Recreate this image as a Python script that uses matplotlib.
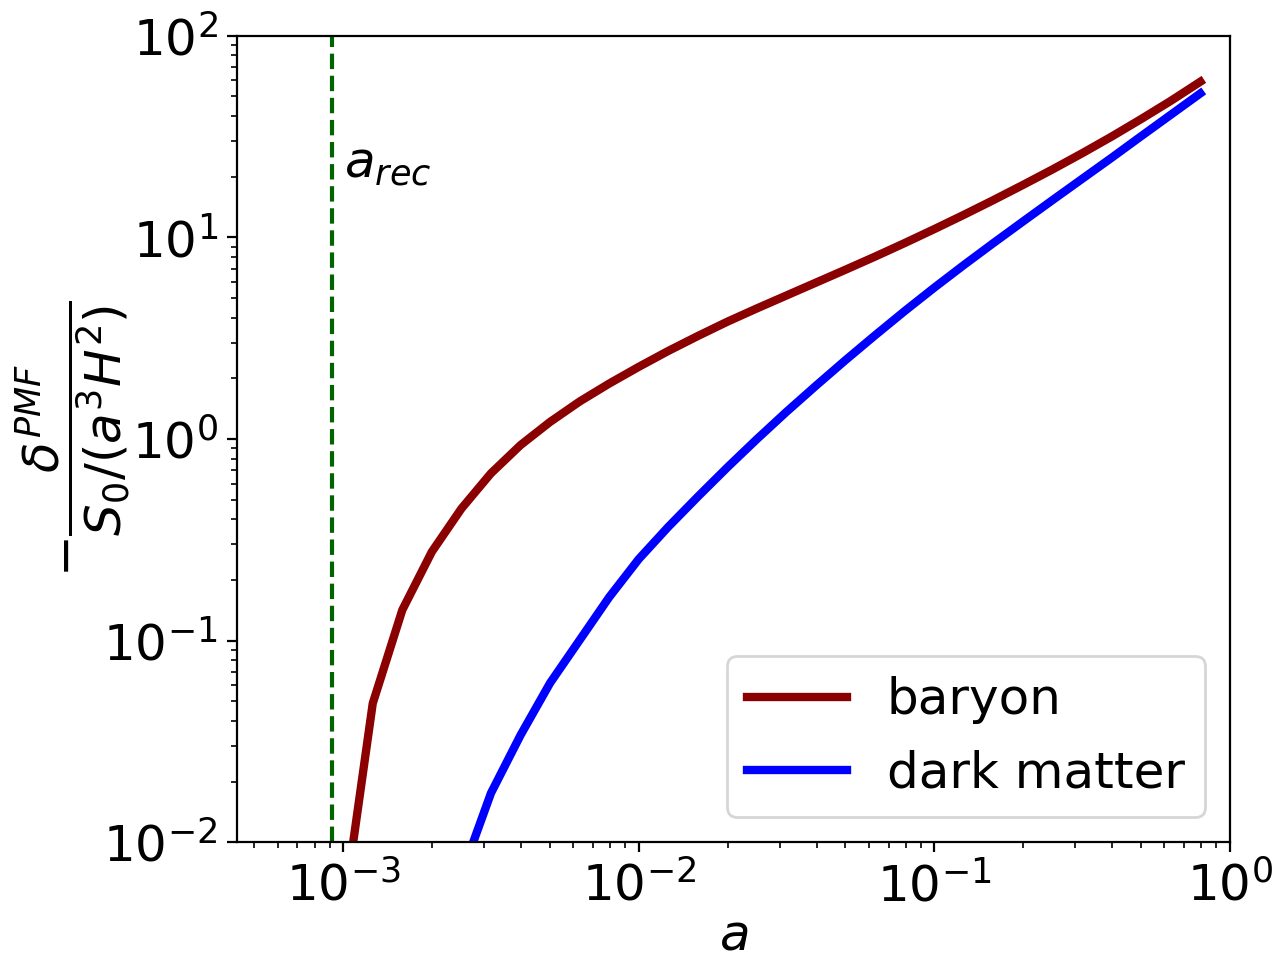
import numpy as np
import matplotlib
matplotlib.use("Agg")
import matplotlib.pyplot as plt

# scale factor grid (log-spaced, 0.1 dex)
a_grid = [0.001, 0.001259, 0.001585, 0.001995, 0.002512, 0.003162, 0.003981,
          0.005012, 0.00631, 0.007943, 0.01, 0.01259, 0.01585, 0.01995,
          0.02512, 0.03162, 0.03981, 0.05012, 0.0631, 0.07943, 0.1, 0.1259,
          0.1585, 0.1995, 0.2512, 0.3162, 0.3981, 0.5012, 0.631, 0.7943]

baryon = [0.00445, 0.0489, 0.142, 0.276, 0.452, 0.676, 0.933, 1.216, 1.535, 1.884,
          2.280, 2.735, 3.243, 3.819, 4.446, 5.152, 5.970, 6.918, 8.035, 9.376,
          10.99, 12.94, 15.31, 18.20, 21.73, 26.12, 31.62, 38.64, 47.53, 59.16]

a_dm = a_grid[3:]
dark_matter = [0.0033, 0.0069, 0.01754, 0.0340, 0.0617, 0.1007, 0.1644,
               0.254, 0.367, 0.518, 0.724, 1.0, 1.365, 1.841, 2.466, 3.273, 4.315,
               5.636, 7.295, 9.376, 11.99, 15.31, 19.50, 24.83, 31.77, 40.55, 51.76]

a_rec = 9.17e-4

fs = 18
fig = plt.figure(figsize=(6.38, 4.785), dpi=200)
ax = fig.add_axes([0.1859, 0.1198, 0.9639 - 0.1859, 0.9627 - 0.1198])

ax.plot(a_grid, baryon, color='darkred', lw=3, label='baryon')
ax.plot(a_dm, dark_matter, color='blue', lw=3, label='dark matter')
ax.axvline(a_rec, color='darkgreen', ls='--', lw=1.5)
ax.text(a_rec * 1.1, 23, r'$a_{rec}$', fontsize=fs, ha='left', va='center')

ax.set_xscale('log')
ax.set_yscale('log')
ax.set_xlim(4.38e-4, 1.0)
ax.set_ylim(1e-2, 1e2)

ax.tick_params(labelsize=fs)
ax.set_xlabel(r'$a$', fontsize=fs, labelpad=0)
ax.set_ylabel(r'$-\dfrac{\delta^{PMF}}{S_0/(a^3H^2)}$', fontsize=fs)
ax.yaxis.set_label_coords(-0.105, 0.5)

ax.legend(loc='lower right', fontsize=fs)

fig.savefig('out.png', dpi=200)
